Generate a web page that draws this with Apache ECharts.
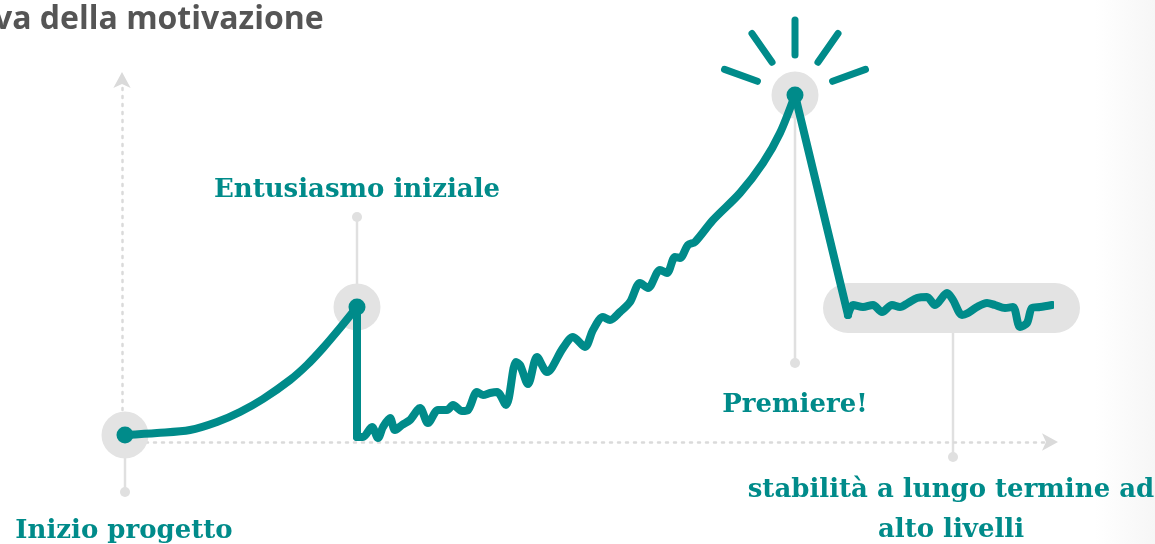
<!DOCTYPE html>
<html>
<head>
<meta charset="utf-8">
<script src="https://cdn.jsdelivr.net/npm/echarts@6/dist/echarts.min.js"></script>
<style>
html,body{margin:0;padding:0;width:1155px;height:544px;overflow:hidden;
background:linear-gradient(to right,#ffffff 0px,#ffffff 1095px,#f6f6f6 1155px);}
#chart{width:1155px;height:544px;}
</style>
</head>
<body>
<div id="chart"></div>
<script>
// ---- data (x: time, y: motivation) ----
var riseCurve = [[3,7],[35,9],[68,12],[95,20],[118,30],[141,43],[168,62],[185,77],[201,94],[218,114],[235,135]];
var firstDrop = [[235,135],[235,5]];
var buildUp = [[235,5],[241,5],[250,15],[256,4],[261,15],[268,24],[273,12],[280,17],[288,22],[298,34],[306,19],[316,32],[325,32],[331,37],[340,31],[346,32],[355,50],[361,47],[368,49],[375,50],[384,37],[394,80],[398,77],[406,58],[415,85],[425,70],[441,94],[451,105],[463,95],[471,112],[481,125],[488,122],[498,130],[508,140],[518,159],[526,154],[538,172],[545,169],[553,185],[558,184],[566,197],[573,200],[591,222],[618,249],[641,279],[658,309],[673,347]];
var crash = [[673,347],[726,127]];
var plateau = [[726,127],[731,137],[741,135],[751,137],[760,130],[770,137],[778,135],[786,139],[795,144],[805,145],[813,137],[825,149],[831,142],[840,127],[846,129],[855,135],[865,139],[873,137],[883,134],[891,135],[898,115],[905,119],[910,134],[918,135],[930,137]];
var keyPoints = [[3,7],[235,135],[673,347],[930,137]];
var haloPoints = [[3,7],[235,135],[673,347]];
var plateauBand = [[701,958,134]];
var leaders = [[3,7,-50],[235,135,225],[673,347,79],[831,134,-15]];
var labelNames = ['Inizio progetto','Entusiasmo iniziale','Premiere!','stabilità a lungo termine ad\nalto livelli'];
var labelPos = [[2,-89],[235,252],[673,37],[829,-68]];
var burstCenter = [[673,347]];
var rayAngles = [20,55,90,125,160];

var TEAL = '#008b8a';
var GREY = '#e3e3e3';
var chart = echarts.init(document.getElementById('chart'));

function lineSeries(data, smooth) {
  return {type:'line', data:data, smooth:smooth, showSymbol:false, clip:false, z:3,
    lineStyle:{color:TEAL, width:8, cap:'round', join:'round'}, silent:true, animation:false};
}

chart.setOption({
  animation:false,
  title:{text:'Curva della motivazione', left:-67, top:-1,
    textStyle:{fontFamily:'Open Sans', fontWeight:'bold', fontSize:32, color:'#555555'}},
  grid:{left:122, top:80, width:928, height:362},
  xAxis:{type:'value', min:0, max:928,
    axisLine:{show:true, symbol:['none','arrow'], symbolSize:[13,16], symbolOffset:[0,8],
      lineStyle:{color:'#dadada', width:2.5, type:[2,6]}},
    axisTick:{show:false}, axisLabel:{show:false}, splitLine:{show:false}},
  yAxis:{type:'value', min:0, max:362,
    axisLine:{show:true, symbol:['none','arrow'], symbolSize:[13,16], symbolOffset:[0,8],
      lineStyle:{color:'#dadada', width:2.5, type:[2,6]}},
    axisTick:{show:false}, axisLabel:{show:false}, splitLine:{show:false}},
  series:[
    {type:'custom', z:0, silent:true, data:leaders,
      renderItem:function(params, api){
        var a = api.coord([api.value(0), api.value(1)]);
        var b = api.coord([api.value(0), api.value(2)]);
        return {type:'group', children:[
          {type:'line', shape:{x1:a[0],y1:a[1],x2:b[0],y2:b[1]}, style:{stroke:'#e0e0e0', lineWidth:2.5}},
          {type:'circle', shape:{cx:b[0], cy:b[1], r:5}, style:{fill:'#e0e0e0'}}
        ]};
      }},
    {type:'custom', z:1, silent:true, data:plateauBand,
      renderItem:function(params, api){
        var a = api.coord([api.value(0), api.value(2)]);
        var b = api.coord([api.value(1), api.value(2)]);
        return {type:'rect', shape:{x:a[0], y:a[1]-25, width:b[0]-a[0], height:50, r:25}, style:{fill:GREY}};
      }},
    {type:'scatter', z:1, silent:true, data:haloPoints, symbolSize:47, itemStyle:{color:GREY, opacity:1}},
    lineSeries(riseCurve, 0.3),
    lineSeries(firstDrop, false),
    lineSeries(buildUp, 0.3),
    lineSeries(crash, false),
    lineSeries(plateau, 0.3),
    {type:'scatter', z:4, silent:true, data:keyPoints, symbolSize:17, itemStyle:{color:TEAL, opacity:1}},
    {type:'custom', z:4, silent:true, data:burstCenter,
      renderItem:function(params, api){
        var c = api.coord([api.value(0), api.value(1)]);
        var kids = rayAngles.map(function(deg){
          var t = deg*Math.PI/180;
          return {type:'line', shape:{x1:c[0]+40*Math.cos(t), y1:c[1]-40*Math.sin(t),
            x2:c[0]+75*Math.cos(t), y2:c[1]-75*Math.sin(t)},
            style:{stroke:TEAL, lineWidth:7, lineCap:'round'}};
        });
        return {type:'group', children:kids};
      }},
    {type:'custom', z:5, silent:true, data:labelPos.map(function(p,i){return {value:p, name:labelNames[i]};}),
      renderItem:function(params, api){
        var c = api.coord([api.value(0), api.value(1)]);
        return {type:'text', x:c[0], y:c[1], style:{text:labelNames[params.dataIndex],
          fill:TEAL, font:'bold 26px "DejaVu Serif"', textAlign:'center', textVerticalAlign:'middle', lineHeight:40}};
      }}
  ]
});
</script>
</body>
</html>
